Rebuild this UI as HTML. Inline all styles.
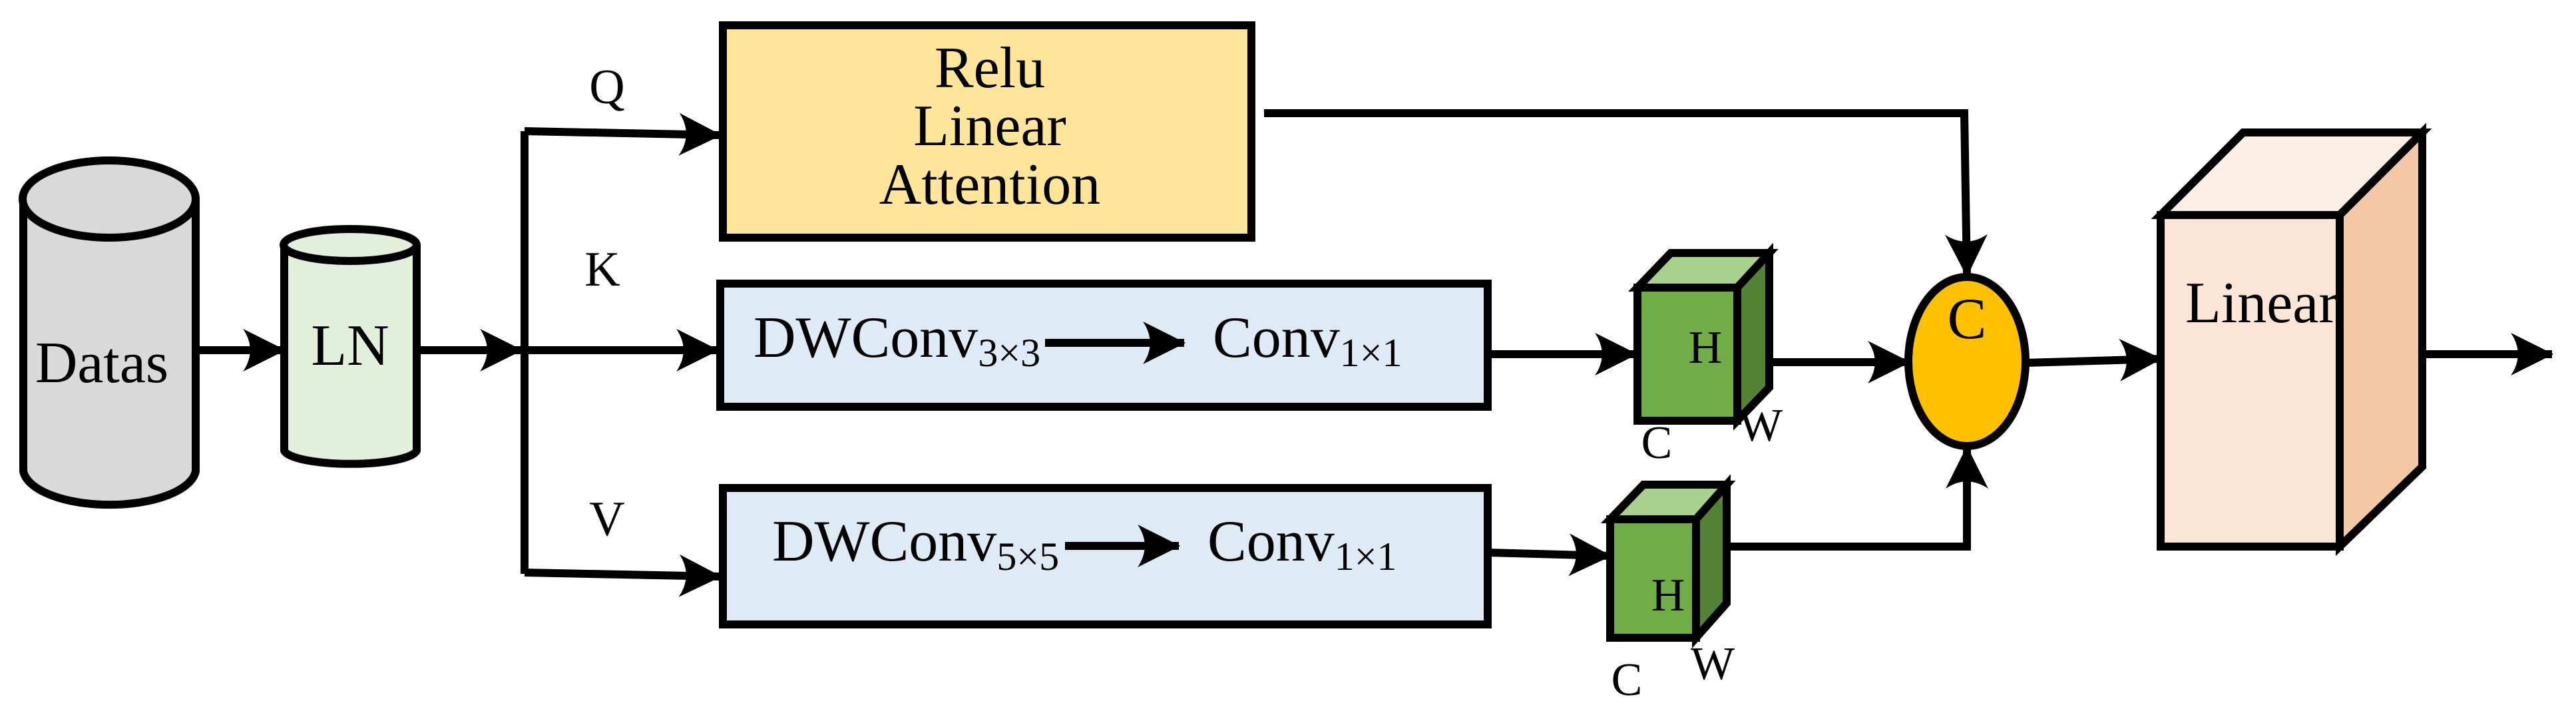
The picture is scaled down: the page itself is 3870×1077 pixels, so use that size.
<!DOCTYPE html>
<html><head><meta charset="utf-8"><style>
html,body{margin:0;padding:0;background:#fff;}
svg{display:block;}
</style></head><body>
<svg width="3870" height="1077" viewBox="0 0 3870 1077" xmlns="http://www.w3.org/2000/svg">
<defs>
<marker id="ah" viewBox="0 0 60 60" refX="58" refY="30" markerWidth="64" markerHeight="64" orient="auto" markerUnits="userSpaceOnUse">
<path d="M60,30 L0,0 Q20,30 0,60 Z" fill="#000"/>
</marker>
</defs>
<g stroke="#000" stroke-width="12" fill="none">
<path d="M35,299 L35,708 A130,55 0 0 0 294,708 L294,299" fill="#D9D9D9"/>
<ellipse cx="164" cy="299" rx="130" ry="58" fill="#D9D9D9"/>
<path d="M427,368 L427,677 A100,22 0 0 0 626,677 L626,368" fill="#E2EFDA"/>
<ellipse cx="526" cy="368" rx="100" ry="24" fill="#E2EFDA"/>
<rect x="1086" y="38" width="794" height="319" fill="#FFE599"/>
<rect x="1082" y="426" width="1153" height="185" fill="#DEEAF6"/>
<rect x="1086" y="733" width="1149" height="205" fill="#DEEAF6"/>
<line x1="294" y1="526" x2="427" y2="526" marker-end="url(#ah)"/>
<line x1="626" y1="526" x2="783" y2="526" marker-end="url(#ah)"/>
<polyline points="788,197 788,862" stroke-linejoin="round"/>
<line x1="788" y1="197" x2="1082" y2="203" marker-end="url(#ah)"/>
<line x1="788" y1="526" x2="1078" y2="526" marker-end="url(#ah)"/>
<line x1="788" y1="860" x2="1082" y2="866" marker-end="url(#ah)"/>
<line x1="1570" y1="515" x2="1779" y2="515" marker-end="url(#ah)"/>
<line x1="1600" y1="820" x2="1771" y2="820" marker-end="url(#ah)"/>
<line x1="2230" y1="532" x2="2458" y2="532" marker-end="url(#ah)"/>
<line x1="2235" y1="830" x2="2419" y2="835" marker-end="url(#ah)"/>
<polyline points="1899,170 2951,170 2955,414" marker-end="url(#ah)"/>
<polyline points="2595,821 2955,821 2955,672" marker-end="url(#ah)"/>
<line x1="2658" y1="544" x2="2868" y2="544" marker-end="url(#ah)"/>
<line x1="3043" y1="545" x2="3246" y2="539" marker-end="url(#ah)"/>
<line x1="3639" y1="532" x2="3834" y2="532" marker-end="url(#ah)"/>
<polygon points="2460,432 2510,380 2658,380 2610,432" fill="#A9D18E"/>
<polygon points="2610,432 2658,380 2658,582 2610,632" fill="#548235"/>
<rect x="2460" y="432" width="150" height="200" fill="#70AD47"/>
<polygon points="2419,780 2469,728 2594,728 2548,780" fill="#A9D18E"/>
<polygon points="2548,780 2594,728 2594,906 2548,958" fill="#548235"/>
<rect x="2419" y="780" width="129" height="178" fill="#70AD47"/>
<ellipse cx="2955" cy="543" rx="88" ry="127" fill="#FFC000"/>
<polygon points="3246,323 3370,199 3639,199 3515,323" fill="#FCEEE5"/>
<polygon points="3515,323 3639,199 3639,701 3515,821" fill="#F4C7A5"/>
<rect x="3246" y="323" width="269" height="498" fill="#FBE5D6"/>
</g>
<g font-size="88" font-family="'Liberation Serif', serif" fill="#000">
<text x="153" y="574" text-anchor="middle">Datas</text>
<text x="526" y="548" text-anchor="middle">LN</text>
<text x="912" y="155" text-anchor="middle" font-size="74">Q</text>
<text x="905" y="429" text-anchor="middle" font-size="74">K</text>
<text x="912" y="804" text-anchor="middle" font-size="74">V</text>
<text x="1487" y="131" text-anchor="middle">Relu</text>
<text x="1487" y="218" text-anchor="middle">Linear</text>
<text x="1487" y="306" text-anchor="middle">Attention</text>
<text x="1132" y="536">DWConv<tspan font-size="60" dy="14">3×3</tspan></text>
<text x="1822" y="536">Conv<tspan font-size="60" dy="14">1×1</tspan></text>
<text x="1160" y="842">DWConv<tspan font-size="60" dy="14">5×5</tspan></text>
<text x="1814" y="842">Conv<tspan font-size="60" dy="14">1×1</tspan></text>
<text x="2955" y="508" text-anchor="middle">C</text>
<text x="3283" y="484">Linear</text>
</g>
<g font-size="70" font-family="'Liberation Serif', serif" fill="#000">
<text x="2562" y="545" text-anchor="middle">H</text>
<text x="2489" y="688" text-anchor="middle">C</text>
<text x="2645" y="662" text-anchor="middle">W</text>
<text x="2506" y="917" text-anchor="middle">H</text>
<text x="2444" y="1044" text-anchor="middle">C</text>
<text x="2573" y="1020" text-anchor="middle">W</text>
</g>
</svg>
</body></html>
